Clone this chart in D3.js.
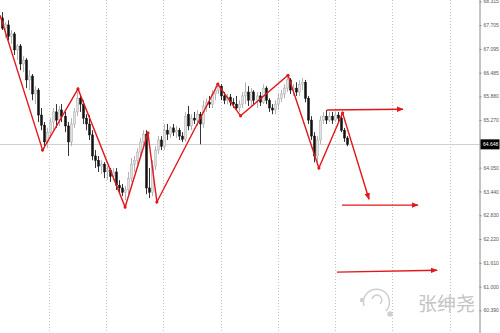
<!DOCTYPE html>
<html>
<head>
<meta charset="utf-8">
<script src="https://cdn.jsdelivr.net/npm/d3@7"></script>
<style>
  body { margin: 0; background: #fff; }
  #chart { width: 500px; height: 333px; }
  .axis text { font-family: "Liberation Sans", sans-serif; font-size: 5px; fill: #555; }
  .axis path, .axis line { stroke: #888; }
</style>
</head>
<body>
<div id="chart"></div>
<script>
/* candles: [open, high, low, close] */
const candles = [
  [67.89, 68.04, 67.58, 67.63], [67.63, 67.78, 67.37, 67.73], [67.71, 67.83, 67.32, 67.42], [67.42, 67.58, 67.22, 67.48],
  [67.48, 67.53, 66.94, 67.07], [67.07, 67.22, 66.81, 67.17], [67.17, 67.22, 66.55, 66.71], [66.71, 66.91, 66.50, 66.81],
  [66.81, 66.86, 66.09, 66.30], [66.30, 66.55, 66.04, 66.40], [66.40, 66.45, 65.78, 65.94], [65.94, 66.14, 65.68, 66.04],
  [66.04, 66.09, 65.22, 65.40], [65.40, 65.58, 65.01, 65.14], [65.14, 65.22, 64.55, 64.71], [64.71, 65.07, 64.55, 64.96],
  [64.96, 65.32, 64.81, 65.22], [65.22, 65.58, 65.01, 65.48], [65.48, 65.68, 65.07, 65.27], [65.27, 65.63, 65.12, 65.53],
  [65.53, 65.68, 65.22, 65.37], [65.37, 65.48, 64.96, 65.12], [65.12, 65.22, 64.35, 64.71], [64.71, 65.32, 64.60, 65.17],
  [65.17, 65.58, 65.07, 65.48], [65.48, 65.99, 65.37, 65.83], [65.83, 65.94, 65.48, 65.68], [65.68, 65.78, 65.17, 65.32],
  [65.32, 65.42, 65.01, 65.17], [65.17, 65.40, 64.76, 64.89], [64.89, 65.01, 64.24, 64.35], [64.35, 64.50, 64.04, 64.24],
  [64.24, 64.35, 63.94, 64.09], [64.09, 64.24, 63.89, 64.14], [64.14, 64.19, 63.78, 63.94], [63.94, 64.09, 63.73, 63.99],
  [63.99, 64.04, 63.68, 63.83], [63.83, 64.04, 63.73, 63.94], [63.94, 64.04, 63.48, 63.60], [63.60, 63.73, 63.42, 63.53],
  [63.53, 63.63, 63.32, 63.42], [63.42, 63.58, 63.22, 63.48], [63.48, 63.94, 63.37, 63.78], [63.78, 64.30, 63.68, 64.14],
  [64.14, 64.35, 63.94, 64.24], [64.24, 64.55, 64.14, 64.45], [64.45, 64.81, 64.35, 64.71], [64.71, 65.01, 64.60, 64.91],
  [64.91, 65.01, 63.37, 63.53], [63.53, 64.04, 63.27, 63.42], [63.42, 64.24, 63.32, 64.09], [64.09, 64.60, 63.99, 64.50],
  [64.50, 64.86, 64.40, 64.76], [64.76, 64.86, 64.50, 64.60], [64.60, 65.17, 64.50, 65.01], [65.01, 65.17, 64.76, 64.91],
  [64.91, 65.12, 64.81, 65.07], [65.07, 65.17, 64.86, 64.96], [64.96, 65.12, 64.81, 65.01], [65.01, 65.07, 64.76, 64.86],
  [64.86, 64.96, 64.71, 64.78], [64.78, 65.48, 64.71, 65.37], [65.42, 65.63, 65.01, 65.12], [65.12, 65.42, 65.01, 65.32],
  [65.32, 65.48, 65.17, 65.27], [65.27, 65.53, 65.12, 65.42], [65.42, 65.48, 64.65, 65.17], [65.17, 65.78, 65.07, 65.63],
  [65.63, 65.83, 65.48, 65.73], [65.73, 65.89, 65.58, 65.68], [65.68, 66.04, 65.58, 65.94], [65.94, 66.14, 65.78, 66.04],
  [66.04, 66.24, 65.94, 66.14], [66.14, 66.19, 65.78, 65.89], [65.89, 65.99, 65.68, 65.78], [65.78, 65.94, 65.68, 65.86],
  [65.86, 65.94, 65.63, 65.73], [65.73, 65.83, 65.58, 65.68], [65.68, 65.89, 65.53, 65.58], [65.58, 65.78, 65.48, 65.68],
  [65.68, 65.99, 65.58, 65.89], [65.89, 66.24, 65.68, 65.99], [65.99, 66.14, 65.63, 65.78], [65.78, 66.09, 65.63, 65.99],
  [65.99, 66.04, 65.68, 65.78], [65.78, 65.99, 65.58, 65.89], [65.89, 65.99, 65.63, 65.73], [65.73, 66.19, 65.68, 66.09],
  [66.09, 66.14, 65.68, 65.78], [65.78, 65.83, 65.48, 65.58], [65.58, 65.68, 65.42, 65.53], [65.53, 65.78, 65.42, 65.68],
  [65.68, 65.94, 65.53, 65.83], [65.83, 66.04, 65.73, 65.94], [65.94, 66.19, 65.83, 66.09], [66.09, 66.40, 65.99, 66.30],
  [66.30, 66.35, 65.94, 66.04], [66.04, 66.19, 65.89, 66.09], [66.09, 66.24, 65.89, 65.99], [65.99, 66.30, 65.89, 66.19],
  [66.19, 66.35, 66.04, 66.24], [66.24, 66.30, 65.73, 65.83], [65.83, 65.89, 65.17, 65.27], [65.27, 65.37, 64.76, 64.86],
  [64.86, 64.96, 64.19, 64.35], [64.35, 64.86, 64.19, 64.76], [64.76, 65.37, 64.65, 65.27], [65.27, 65.48, 65.17, 65.37],
  [65.37, 65.53, 65.17, 65.27], [65.27, 65.48, 65.22, 65.37], [65.37, 65.48, 65.17, 65.27], [65.27, 65.48, 65.22, 65.40],
  [65.40, 65.48, 65.22, 65.32], [65.32, 65.42, 64.96, 65.01], [65.01, 65.07, 64.71, 64.81], [64.81, 64.86, 64.60, 64.65]
];

// zigzag drawn on the chart: [candle index, price]
const zigzag = [
  [-0.5, 67.96], [13.7, 64.50], [25.5, 66.07], [41.2, 63.04], [48.8, 64.94], [51.8, 63.17],
  [72.1, 66.19], [79.7, 65.38], [95.5, 66.42], [105.8, 64.04], [113.7, 65.45], [122.5, 63.24]
];

// horizontal target arrows: [start index, start price, end index, end price]
const targets = [
  [108.5, 65.53, 133.8, 65.55],
  [113.5, 63.09, 138.8, 63.09],
  [111.8, 61.37, 145.2, 61.42]
];

const priceTicks = [68.315, 67.705, 67.095, 66.485, 65.880, 65.270, 64.050, 63.440, 62.830, 62.220, 61.610, 61.000, 60.390];
const lastPrice = 64.648;
const gridIdx = [15.7, 34.8, 53.9, 73.0, 92.1, 111.2, 130.3, 149.4];

const width = 500;
const height = 333;
const plotRight = 479.5;

const svg = d3.select("#chart")
    .append("svg")
    .attr("width", width)
    .attr("height", height);

const xScale = d3.scaleLinear()
    .domain([-0.5, 159.5])
    .range([0, 480]);

const yScale = d3.scaleLinear()
    .domain([59.81, 68.35])
    .range([height, 0]);

// vertical dotted grid
svg.append("g")
    .selectAll("line")
    .data(gridIdx)
    .join("line")
    .attr("x1", d => Math.round(xScale(d)) + 0.5)
    .attr("x2", d => Math.round(xScale(d)) + 0.5)
    .attr("y1", 0)
    .attr("y2", height)
    .attr("stroke", "#c4c4c4")
    .attr("stroke-width", 1)
    .attr("stroke-dasharray", "1,2");

// current price line
svg.append("line")
    .attr("x1", 0)
    .attr("x2", plotRight)
    .attr("y1", Math.round(yScale(lastPrice)) + 0.5)
    .attr("y2", Math.round(yScale(lastPrice)) + 0.5)
    .attr("stroke", "#d0d0d0")
    .attr("stroke-width", 1);

// candles
const candle = svg.append("g")
    .selectAll("g")
    .data(candles)
    .join("g");

candle.append("line")
    .attr("x1", (d, i) => Math.round(xScale(i)) + 0.5)
    .attr("x2", (d, i) => Math.round(xScale(i)) + 0.5)
    .attr("y1", d => yScale(d[1]))
    .attr("y2", d => yScale(d[2]))
    .attr("stroke", d => d[3] >= d[0] ? "#b4b4b4" : "#333")
    .attr("stroke-width", 1);

candle.append("rect")
    .attr("x", (d, i) => Math.round(xScale(i)) - 0.5)
    .attr("y", d => yScale(Math.max(d[0], d[3])))
    .attr("width", 2)
    .attr("height", d => Math.max(1, Math.abs(yScale(d[0]) - yScale(d[3]))))
    .attr("fill", d => d[3] >= d[0] ? "#e2e2e2" : "#111")
    .attr("stroke", d => d[3] >= d[0] ? "#a8a8a8" : "#111")
    .attr("stroke-width", 0.5);

// red arrow marker
svg.append("defs").append("marker")
    .attr("id", "arrow")
    .attr("viewBox", "0 0 10 10")
    .attr("refX", 9)
    .attr("refY", 5)
    .attr("markerWidth", 5)
    .attr("markerHeight", 5)
    .attr("orient", "auto")
    .append("path")
    .attr("d", "M0,1 L10,5 L0,9 z")
    .attr("fill", "#e3161b");

const line = d3.line()
    .x(d => xScale(d[0]))
    .y(d => yScale(d[1]));

svg.append("path")
    .datum(zigzag)
    .attr("d", line)
    .attr("fill", "none")
    .attr("stroke", "#e3161b")
    .attr("stroke-width", 1.4)
    .attr("marker-end", "url(#arrow)");

svg.append("g")
    .selectAll("circle")
    .data(zigzag.slice(1, -1))
    .join("circle")
    .attr("cx", d => xScale(d[0]))
    .attr("cy", d => yScale(d[1]))
    .attr("r", 1.6)
    .attr("fill", "#e3161b");

svg.append("g")
    .selectAll("line")
    .data(targets)
    .join("line")
    .attr("x1", d => xScale(d[0]))
    .attr("y1", d => yScale(d[1]))
    .attr("x2", d => xScale(d[2]))
    .attr("y2", d => yScale(d[3]))
    .attr("stroke", "#e3161b")
    .attr("stroke-width", 1.4)
    .attr("marker-end", "url(#arrow)");

// price axis on the right
const yAxis = svg.append("g")
    .attr("class", "axis")
    .attr("transform", `translate(${plotRight},0)`)
    .call(d3.axisRight(yScale)
        .tickValues(priceTicks)
        .tickSize(2)
        .tickPadding(2)
        .tickFormat(d3.format(".3f")));

yAxis.select(".domain").attr("d", `M0.5,0V${height}`);

// last price tag
const tag = svg.append("g")
    .attr("transform", `translate(${plotRight + 1},${yScale(lastPrice)})`);

tag.append("rect")
    .attr("x", 0)
    .attr("y", -5)
    .attr("width", 19)
    .attr("height", 10)
    .attr("fill", "#000");

tag.append("text")
    .attr("x", 2.5)
    .attr("y", 2)
    .attr("font-family", "Liberation Sans, sans-serif")
    .attr("font-size", 5)
    .attr("fill", "#fff")
    .text("64.648");

// watermark
const mark = svg.append("g")
    .attr("transform", "translate(376,302)")
    .attr("fill", "none")
    .attr("stroke", "#cfcfcf")
    .attr("stroke-width", 1.5);

mark.append("path").attr("d", "M-12,4 A13,13 0 1,1 10,9");
mark.append("path").attr("d", "M-4,-3 A5,5 0 1,1 4,2");
mark.append("circle").attr("cx", 14).attr("cy", 12).attr("r", 2).attr("fill", "#cfcfcf");
mark.append("circle").attr("cx", -14).attr("cy", -2).attr("r", 1.5).attr("fill", "#cfcfcf");

svg.append("text")
    .attr("x", 418)
    .attr("y", 311)
    .attr("font-family", "Noto Sans CJK SC, sans-serif")
    .attr("font-size", 19)
    .attr("fill", "#c4c4c4")
    .text("张绅尧");
</script>
</body>
</html>
